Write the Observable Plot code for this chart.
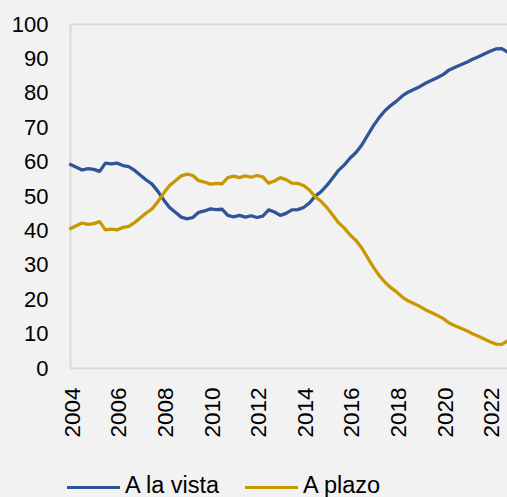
<!DOCTYPE html>
<html><head><meta charset="utf-8">
<script src="https://cdn.jsdelivr.net/npm/d3@7"></script>
<script src="https://cdn.jsdelivr.net/npm/@observablehq/plot@0.6"></script>
<style>
html,body{margin:0;padding:0;background:#f2f2f2;}
#wrap{position:relative;width:507px;height:497px;overflow:hidden;background:#f2f2f2;font-family:"Liberation Sans",Arial,sans-serif;}
#chart{position:absolute;left:0;top:0;}
.leg{position:absolute;top:474px;font-size:23.5px;line-height:1;color:#000;white-space:nowrap;}
.sw{position:absolute;top:485.5px;height:3px;width:53px;}
</style></head><body>
<div id="wrap">
  <div id="chart"></div>
  <div class="sw" style="left:67px;background:#2f5597"></div>
  <div class="leg" style="left:125px">A la vista</div>
  <div class="sw" style="left:245px;background:#c99800"></div>
  <div class="leg" style="left:303px">A plazo</div>
</div>
<script>
const startYear = 2004; // quarterly observations from 2004 Q1
const seriesNames = ["A la vista", "A plazo"];
const seriesColors = ["#2f5597", "#c99800"];
const aLaVista = [59.3, 58.5, 57.7, 58.1, 57.9, 57.3, 59.7, 59.5, 59.7, 59.0,
  58.7, 57.6, 56.2, 54.8, 53.6, 51.5, 49.0, 46.8, 45.4, 44.0,
  43.5, 43.9, 45.4, 45.8, 46.4, 46.2, 46.3, 44.5, 44.1, 44.5,
  44.0, 44.4, 43.9, 44.3, 46.1, 45.5, 44.5, 45.1, 46.1, 46.2,
  46.8, 48.1, 50.1, 51.4, 53.2, 55.4, 57.6, 59.2, 61.2, 62.8,
  65.0, 67.8, 70.6, 73.0, 75.0, 76.5, 77.8, 79.3, 80.4, 81.2,
  82.0, 83.0, 83.8, 84.6, 85.5, 86.8, 87.6, 88.3, 89.0, 89.9,
  90.6, 91.4, 92.2, 92.9, 93.0, 92.0];
const aPlazo = [40.7, 41.5, 42.3, 41.9, 42.1, 42.7, 40.3, 40.5, 40.3, 41.0,
  41.3, 42.4, 43.8, 45.2, 46.4, 48.5, 51.0, 53.2, 54.6, 56.0,
  56.5, 56.1, 54.6, 54.2, 53.6, 53.8, 53.7, 55.5, 55.9, 55.5,
  56.0, 55.6, 56.1, 55.7, 53.9, 54.5, 55.5, 54.9, 53.9, 53.8,
  53.2, 51.9, 49.9, 48.6, 46.8, 44.6, 42.4, 40.8, 38.8, 37.2,
  35.0, 32.2, 29.4, 27.0, 25.0, 23.5, 22.2, 20.7, 19.6, 18.8,
  18.0, 17.0, 16.2, 15.4, 14.5, 13.2, 12.4, 11.7, 11.0, 10.1,
  9.4, 8.6, 7.8, 7.1, 7.0, 8.0];
const xTicks = [2004, 2006, 2008, 2010, 2012, 2014, 2016, 2018, 2020, 2022];
const yTicks = [0, 10, 20, 30, 40, 50, 60, 70, 80, 90, 100];

const toRows = (vals, name) => vals.map((v, i) => ({t: startYear + i / 4, v, s: name}));
const rowsVista = toRows(aLaVista, seriesNames[0]);
const rowsPlazo = toRows(aPlazo, seriesNames[1]);

const chart = Plot.plot({
  width: 507,
  height: 460,
  marginLeft: 70,
  marginRight: 0,
  marginTop: 24,
  marginBottom: 92,
  style: {background: "#f2f2f2", fontFamily: "Liberation Sans, Arial, sans-serif", fontSize: "22px", color: "#000", overflow: "visible"},
  x: {domain: [startYear, startYear + (aLaVista.length - 1) / 4]},
  y: {domain: [0, 100]},
  marks: [
    Plot.ruleY([0, 100], {stroke: "#d9d9d9", strokeWidth: 2}),
    Plot.ruleX([startYear], {stroke: "#d9d9d9", strokeWidth: 2}),
    Plot.line(rowsVista, {x: "t", y: "v", stroke: seriesColors[0], strokeWidth: 3.3, strokeLinejoin: "round"}),
    Plot.line(rowsPlazo, {x: "t", y: "v", stroke: seriesColors[1], strokeWidth: 3.3, strokeLinejoin: "round"}),
    Plot.axisY({ticks: yTicks, tickSize: 0, tickPadding: 22, fontSize: 22, label: null, fill: "#000"}),
    Plot.axisX({ticks: xTicks, tickSize: 0, tickRotate: -90, tickPadding: 19, dx: 2, fontSize: 22.5, tickFormat: d => String(d), label: null, fill: "#000"})
  ]
});
document.getElementById("chart").appendChild(chart);
</script>
</body></html>
